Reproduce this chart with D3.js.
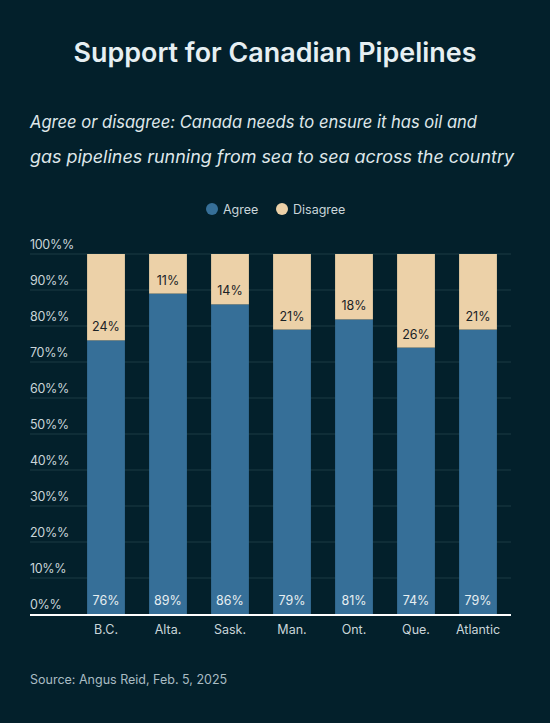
<!DOCTYPE html>
<html><head><meta charset="utf-8">
<script src="https://cdn.jsdelivr.net/npm/d3@7"></script>
<style>
html,body{margin:0;padding:0;background:#03202b;}
svg{display:block;}
</style></head>
<body>
<svg id="chart" width="550" height="723"></svg>
<script>
const categories = ["B.C.","Alta.","Sask.","Man.","Ont.","Que.","Atlantic"];
const agree = [76,89,86,79,81,74,79];
const disagree = [24,11,14,21,18,26,21];
const yTicks = [0,10,20,30,40,50,60,70,80,90,100];
const seriesNames = ["Agree","Disagree"];
const colors = ["#366f98","#ecd1a8"];

const font = "Inter, 'Noto Sans', sans-serif";
const svg = d3.select("#chart");
svg.append("rect").attr("width",550).attr("height",723).attr("fill","#03202b");

svg.append("text").attr("x",275).attr("y",62).attr("text-anchor","middle")
  .attr("fill","#e6eff2").attr("font-family",font).attr("font-weight",600)
  .attr("font-size",26.5).attr("textLength",403).attr("lengthAdjust","spacingAndGlyphs")
  .text("Support for Canadian Pipelines");

const sub = ["Agree or disagree: Canada needs to ensure it has oil and","gas pipelines running from sea to sea across the country"];
sub.forEach((s,i)=>svg.append("text").attr("x",30).attr("y",128+i*35)
  .attr("fill","#dfe7ea").attr("font-family",font).attr("font-style","italic")
  .attr("font-size",17.2).attr("textLength",i?484:447).attr("lengthAdjust","spacingAndGlyphs").text(s));

// legend
const legX = [212,282];
seriesNames.forEach((n,i)=>{
  svg.append("circle").attr("cx",legX[i]).attr("cy",209).attr("r",6).attr("fill",colors[i]);
  svg.append("text").attr("x",legX[i]+11).attr("y",213.5).attr("fill","#c9d5d9")
    .attr("font-family",font).attr("font-size",12.5).text(n);
});

const x = d3.scaleBand().domain(categories).range([75,509]).paddingInner(0.39).paddingOuter(0.195);
const y = d3.scaleLinear().domain([0,1]).range([614,254]);

// gridlines
svg.append("g").selectAll("line").data(yTicks.filter(t=>t>0)).join("line")
  .attr("x1",30).attr("x2",511).attr("y1",d=>y(d/100)).attr("y2",d=>y(d/100))
  .attr("stroke","#1c3a45").attr("stroke-width",1);

// y labels
svg.append("g").selectAll("text").data(yTicks).join("text")
  .attr("x",30).attr("y",d=>y(d/100)-5).attr("fill","#c9d5d9")
  .attr("font-family",font).attr("font-size",12.5).attr("letter-spacing",-0.3).text(d=>d+"%%");

const rows = categories.map((c,i)=>({c,Agree:agree[i],Disagree:disagree[i]}));
const stacked = d3.stack().keys(seriesNames).offset(d3.stackOffsetExpand)(rows);

const g = svg.append("g");
stacked.forEach((layer,li)=>{
  g.append("g").selectAll("rect").data(layer).join("rect")
    .attr("x",d=>x(d.data.c)).attr("width",x.bandwidth())
    .attr("y",d=>y(d[1])).attr("height",d=>y(d[0])-y(d[1])).attr("fill",colors[li]);
  g.append("g").selectAll("text").data(layer).join("text")
    .attr("x",d=>x(d.data.c)+x.bandwidth()/2).attr("y",d=>y(d[0])-9).attr("text-anchor","middle")
    .attr("fill",li?"#1a2226":"#e6eef1").attr("font-family",font).attr("font-size",12.5)
    .text(d=>d.data[layer.key]+"%");
});

// baseline
svg.append("line").attr("x1",30).attr("x2",511).attr("y1",615).attr("y2",615)
  .attr("stroke","#ffffff").attr("stroke-width",2);

// x labels
svg.append("g").selectAll("text").data(categories).join("text")
  .attr("x",d=>x(d)+x.bandwidth()/2).attr("y",634).attr("text-anchor","middle")
  .attr("fill","#c9d5d9").attr("font-family",font).attr("font-size",12.5).text(d=>d);

svg.append("text").attr("x",30).attr("y",684).attr("fill","#a9bcc3")
  .attr("font-family",font).attr("font-size",12.5).text("Source: Angus Reid, Feb. 5, 2025");
</script>
</body></html>
